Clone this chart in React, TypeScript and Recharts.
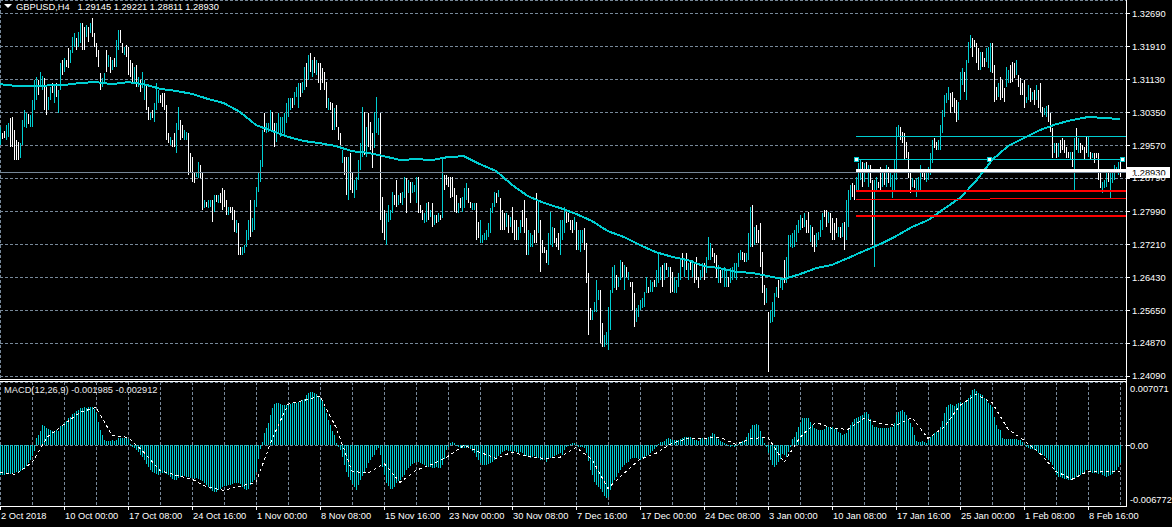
import React from 'react';
import { ComposedChart, Bar, Line, XAxis, YAxis, CartesianGrid, ReferenceLine, ReferenceDot, Cell } from 'recharts';

const FONT = '"Liberation Sans", Arial, sans-serif';
const CYAN = '#00ced1';
const GRID = '#778899';

// H4 bars: [high, low, up(1)/down(0)] in pips (1e-4)
const bars: number[][] = [
[13000,12958,1],[12986,12972,0],[12991,12974,0],[13005,12970,1],[13010,12977,1],[13022,12953,0],[13024,12953,0],[12993,12922,0],[12970,12922,0],[12965,12922,0],
[12962,12927,1],[13017,12958,1],[13041,13000,1],[13034,12998,1],[13031,13008,0],[13029,13000,1],[13065,13000,1],[13112,13041,1],[13119,13065,1],[13112,13076,0],
[13131,13095,1],[13122,13088,1],[13117,13041,0],[13100,13029,0],[13072,13041,1],[13095,13065,1],[13105,13081,0],[13100,13057,1],[13105,13072,0],[13088,13034,1],
[13152,13088,1],[13160,13124,0],[13164,13131,1],[13160,13143,0],[13188,13141,0],[13183,13152,1],[13214,13176,1],[13224,13190,1],[13212,13183,0],[13226,13190,1],
[13247,13200,1],[13247,13183,0],[13238,13183,0],[13243,13214,1],[13238,13202,0],[13247,13224,1],[13259,13214,0],[13224,13190,0],[13200,13167,0],[13183,13143,0],
[13129,13088,0],[13117,13095,1],[13129,13105,1],[13183,13131,0],[13171,13143,1],[13167,13129,0],[13160,13136,1],[13164,13143,0],[13207,13143,1],[13231,13183,1],
[13231,13200,0],[13200,13176,0],[13190,13171,1],[13195,13167,0],[13190,13124,0],[13160,13119,0],[13152,13107,0],[13143,13105,1],[13148,13095,0],[13119,13095,1],
[13112,13084,0],[13131,13093,1],[13112,13065,1],[13100,13041,0],[13048,13017,0],[13034,13017,1],[13041,13022,0],[13057,13012,1],[13105,13041,1],[13088,13057,1],
[13076,13057,0],[13081,13048,0],[13081,13041,0],[13053,12970,0],[12986,12962,0],[12977,12958,1],[12970,12953,0],[12986,12953,0],[13010,12939,1],[13048,12993,1],
[13017,12970,0],[13005,12974,0],[12993,12970,1],[12989,12970,1],
[12986,12886,0],[12939,12891,0],[12929,12870,0],[12894,12867,0],[12894,12882,1],[12917,12879,1],
[12910,12879,0],[12891,12803,0],[12827,12808,1],[12822,12810,0],[12827,12808,1],[12827,12810,1],[12827,12775,0],[12839,12799,1],[12839,12822,0],[12839,12820,1],
[12844,12820,0],[12856,12803,0],[12851,12810,0],[12827,12791,0],[12810,12791,1],[12810,12796,0],[12810,12780,0],[12803,12751,0],[12780,12749,1],[12772,12696,0],
[12715,12696,0],[12715,12696,1],[12720,12701,1],[12756,12715,1],[12780,12732,1],[12827,12739,0],[12784,12751,1],[12827,12756,1],[12858,12810,1],[12891,12846,1],
[12922,12870,1],[12993,12905,1],[13034,12989,0],[13010,12986,1],[13010,12989,1],[13041,12993,1],[13036,12993,0],[13010,12953,0],[13010,12965,1],[13034,12986,1],
[13024,12977,1],[13024,12986,1],[13034,12977,1],[13057,13010,1],[13069,13024,1],[13069,13041,1],[13069,13046,0],[13084,13053,1],[13095,13072,1],[13105,13046,1],
[13105,13072,0],[13107,13081,1],[13143,13088,1],[13152,13095,0],[13171,13112,1],[13176,13131,0],[13160,13119,1],[13167,13129,0],[13160,13124,1],[13152,13105,0],
[13152,13088,0],[13141,13105,0],[13131,13088,0],[13107,13046,0],[13069,13041,1],[13060,13041,0],[13057,12993,0],[13046,12993,1],[13053,13000,0],[13000,12970,0],
[12986,12958,0],[12946,12915,1],[12929,12886,0],[12929,12839,0],[12929,12827,1],[12939,12851,0],[12891,12844,0],[12875,12832,1],[12882,12851,1],[12922,12875,1],
[12962,12898,1],[13048,12929,1],[13036,12934,0],[13000,12929,1],[13034,12953,0],[13012,12946,0],[12986,12903,0],[13036,12951,1],[13072,12986,1],
[13022,12981,1],[13034,12780,0],[12834,12749,0],[12803,12732,0],[12796,12720,1],[12815,12775,1],[12803,12780,1],[12846,12796,1],[12839,12815,0],[12875,12810,0],[12839,12815,1],
[12844,12820,0],[12846,12815,1],[12882,12832,1],[12879,12796,0],[12875,12844,1],[12870,12820,0],[12870,12844,1],[12863,12846,1],[12882,12820,1],[12882,12796,0],
[12815,12796,0],[12803,12780,0],[12796,12772,1],[12820,12775,1],[12822,12780,0],[12803,12787,1],[12820,12763,0],[12791,12768,1],[12791,12772,0],[12796,12775,1],
[12791,12780,0],[12927,12784,1],[12886,12851,0],[12886,12863,0],[12882,12858,0],[12882,12832,0],[12882,12834,0],[12856,12799,0],[12839,12796,0],[12820,12796,1],
[12832,12808,0],[12834,12799,1],[12856,12808,1],[12867,12827,1],[12856,12820,0],[12822,12808,0],[12820,12803,1],[12820,12803,1],[12820,12732,0],[12775,12737,0],
[12780,12725,1],[12744,12725,1],[12749,12732,1],[12756,12732,1],[12772,12739,1],[12808,12749,1],[12820,12796,1],[12846,12810,1],[12844,12820,0],[12851,12834,1],
[12832,12756,0],[12803,12756,0],[12796,12756,0],[12796,12763,1],[12791,12749,0],[12787,12763,1],[12810,12749,0],[12780,12732,0],[12780,12732,0],[12763,12732,1],
[12780,12749,1],[12803,12763,0],[12827,12749,0],[12784,12696,0],[12756,12696,1],[12749,12715,1],[12744,12715,1],[12756,12725,0],[12844,12725,0],[12827,12749,1],
[12780,12656,0],[12732,12701,0],[12715,12701,0],[12708,12677,0],[12749,12673,1],[12799,12720,1],[12763,12715,1],[12761,12725,0],[12737,12715,0],[12749,12708,0],
[12780,12696,1],[12780,12732,1],[12810,12749,1],[12799,12772,0],[12796,12775,0],[12780,12756,0],[12780,12749,0],[12787,12756,1],[12775,12708,0],[12756,12708,1],
[12756,12704,1],[12756,12725,1],[12761,12708,0],[12725,12630,0],[12654,12506,0],[12571,12542,0],[12566,12542,1],[12585,12561,1],[12637,12561,1],[12613,12590,1],
[12613,12487,0],[12535,12478,0],[12506,12478,1],[12514,12483,1],[12573,12471,1],[12613,12518,1],[12668,12606,1],[12673,12618,1],[12649,12613,0],[12644,12620,1],
[12685,12637,1],[12680,12644,0],[12673,12613,1],[12668,12644,0],[12656,12637,1],[12632,12620,0],[12632,12566,0],[12606,12525,0],[12571,12537,1],[12578,12549,1],
[12590,12566,1],[12594,12571,1],[12609,12573,1],[12644,12606,1],[12620,12606,0],[12637,12609,1],[12632,12609,1],[12637,12620,0],[12661,12620,1],[12701,12630,1],
[12668,12637,1],[12673,12620,0],[12677,12637,1],[12677,12661,0],[12668,12644,1],[12668,12606,0],[12656,12609,0],[12644,12606,1],[12637,12606,1],[12654,12620,1],
[12685,12637,1],[12701,12668,0],[12685,12644,1],[12701,12661,0],[12677,12637,1],[12685,12661,0],[12685,12644,1],[12677,12630,0],[12692,12637,0],[12644,12618,0],
[12661,12637,1],[12677,12644,1],[12677,12637,0],[12692,12654,1],[12739,12685,1],[12725,12685,1],[12713,12692,0],[12701,12677,0],[12696,12642,0],[12673,12630,1],
[12661,12630,0],[12661,12642,1],[12668,12620,1],[12661,12620,1],[12644,12620,0],[12666,12630,1],[12668,12637,1],[12677,12642,1],[12677,12637,1],[12701,12668,1],
[12708,12685,1],[12704,12685,0],[12701,12680,0],[12701,12680,1],[12749,12685,1],[12810,12715,1],[12815,12715,0],[12763,12720,1],[12768,12725,0],[12756,12725,0],
[12772,12668,0],[12704,12606,0],[12625,12578,0],[12618,12582,1],[12561,12419,0],[12566,12535,1],[12585,12537,1],[12606,12549,1],[12620,12597,1],[12637,12594,0],
[12644,12618,1],[12642,12613,1],[12685,12630,0],[12692,12630,1],[12744,12644,1],[12744,12715,1],[12749,12713,1],[12756,12715,1],[12768,12727,1],[12780,12749,1],
[12791,12756,1],[12784,12761,0],[12796,12763,1],[12780,12749,0],[12799,12749,0],[12768,12727,1],[12763,12715,0],[12744,12704,0],[12749,12715,1],[12751,12732,1],
[12780,12739,1],[12796,12756,1],[12803,12787,0],[12803,12763,0],[12799,12772,1],[12796,12749,0],[12784,12732,0],[12772,12732,0],[12784,12749,0],[12763,12739,1],
[12763,12737,0],[12772,12739,1],[12775,12708,0],[12827,12732,1],[12851,12763,1],[12863,12827,1],[12867,12834,0],[12863,12827,0],[12882,12846,1],[12915,12851,1],
[12922,12875,1],[12917,12858,0],[12915,12870,1],[12917,12891,0],[12910,12858,1],[12910,12867,0],[12875,12720,0],[12875,12668,1],[12882,12851,1],[12870,12856,0],
[12905,12851,0],[12891,12858,1],[12891,12863,0],[12910,12858,1],[12905,12867,0],[12891,12858,1],[12886,12832,1],[12922,12851,1],[13000,12875,1],[13005,12977,1],
[13000,12970,0],[12989,12962,0],[12986,12922,0],[12965,12927,0],[12941,12879,0],[12898,12844,0],[12879,12858,1],[12875,12856,0],[12879,12834,1],[12882,12846,1],
[12910,12851,1],[12898,12882,0],[12898,12875,0],[12898,12870,1],[12905,12875,1],[12939,12886,1],[12970,12915,1],[12974,12951,0],[12965,12946,0],[12970,12946,1],
[13005,12946,1],[13041,12986,1],[13076,13024,1],[13081,13057,1],[13095,13065,1],[13081,13034,0],[13084,13048,0],[13069,13034,0],[13065,13012,0],[13060,13017,1],
[13131,13065,1],[13141,13100,1],[13131,13084,0],[13160,13065,1],[13202,13152,1],[13219,13188,1],[13212,13167,0],[13207,13190,0],[13200,13152,0],[13188,13136,0],
[13179,13136,1],[13179,13143,0],[13164,13143,0],[13188,13155,1],[13190,13141,1],[13200,13131,1],[13200,13129,0],[13148,13060,0],[13095,13065,0],[13105,13072,1],
[13119,13065,0],[13112,13069,0],[13093,13060,0],[13143,13095,1],[13136,13105,1],[13148,13105,0],[13155,13107,0],[13152,13117,0],[13160,13124,1],[13124,13095,0],
[13117,13076,0],[13105,13076,0],[13112,13046,0],[13072,13057,1],[13100,13065,1],[13093,13060,0],[13084,13065,1],[13088,13053,0],[13100,13065,1],[13088,13046,0],
[13105,13036,0],[13048,13024,0],[13046,13029,1],[13050,13024,1],[13053,13012,0],[13034,12989,0],[12998,12927,0],[12962,12939,1],[12962,12927,0],[12962,12929,1],
[12970,12939,0],[12974,12946,0],[12970,12939,0],[12953,12927,0],[12941,12927,0],[12941,12922,1],[12941,12905,0],[12974,12851,1],[12998,12946,0],[12974,12939,1],
[12962,12939,0],[12958,12946,0],[12953,12922,0],[12977,12939,0],[12977,12929,1],[12941,12922,0],[12939,12927,1],[12939,12915,0],[12939,12927,0],[12939,12875,0],
[12894,12856,0],[12870,12844,1],[12875,12856,1],[12891,12858,1],[12898,12870,0],[12891,12832,1],[12898,12867,1],[12910,12875,1],[12905,12891,1],[12917,12886,1],[12922,12881,0]
];

// Moving average, one value every 8 bars (pips)
const maEvery8 = [13102,13098,13098,13099,13100,13105,13107,13102,13107,13102,13091,13086,13079,13067,13057,13036,13005,12991,12977,12967,12962,12955,12943,12939,12931,12922,12924,12922,12929,12931,12912,12896,12863,12836,12820,12808,12794,12777,12753,12739,12720,12703,12692,12684,12670,12665,12656,12654,12646,12639,12651,12665,12673,12689,12706,12722,12741,12763,12779,12806,12832,12872,12922,12955,12974,12993,13007,13017,13024,13022,13019];

// MACD histogram per bar (1e-5)
const macdHist = [
-335,-335,-335,-324,-324,-324,-312,-312,-301,-301,-290,-279,-257,-234,-201,-167,-123,-67,78,112,
156,223,212,190,179,167,156,156,167,156,212,223,246,268,301,312,346,357,379,391,
413,413,424,413,424,424,424,402,357,257,167,112,56,45,45,45,56,45,56,78,
78,78,78,78,67,11,-22,-33,-56,-78,-112,-134,-167,-212,-246,-279,-301,-312,-324,-335,
-312,-312,-312,-324,-335,-357,-379,-391,-391,-368,-357,-357,-346,-357,-357,-368,-368,-379,-368,-379,
-391,-402,-424,-446,-469,-491,-513,-525,-525,-502,-491,-469,-458,-458,-446,-446,-435,-424,-424,-424,
-435,-469,-491,-502,-491,-446,-413,-391,-301,-156,-45,33,134,190,246,335,413,458,469,469,
458,446,446,446,446,458,469,469,469,480,491,502,513,558,580,591,591,580,569,536,
513,491,424,357,279,223,156,112,22,-22,-56,-134,-223,-301,-357,-391,-435,-469,-502,-446,
-391,-346,-312,-257,-201,-167,-134,-112,-56,-33,-112,-246,-335,-424,-458,-491,-491,-469,-424,-402,
-391,-357,-335,-279,-257,-234,-212,-201,-190,-190,-201,-212,-223,-234,-246,-246,-257,-257,-246,-257,
-257,-223,-156,-56,-22,22,33,22,-11,-22,-33,-33,-33,-33,-33,-45,-67,-89,-134,-167,
-201,-223,-223,-223,-212,-201,-190,-167,-145,-123,-100,-78,-67,-56,-67,-67,-78,-67,-78,-89,
-78,-89,-112,-123,-134,-145,-134,-123,-134,-145,-167,-167,-156,-190,-156,-145,-134,-123,-112,-100,
-89,-112,-56,-22,-11,11,22,22,11,-22,-22,-22,-33,-89,-179,-279,-335,-413,-446,-469,
-491,-525,-569,-591,-580,-502,-446,-391,-357,-312,-279,-246,-223,-201,-190,-156,-145,-145,-145,-156,
-167,-145,-134,-123,-112,-89,-67,-45,-22,11,33,33,45,67,78,67,56,56,56,56,
67,78,89,89,89,89,78,56,56,45,67,78,56,67,89,100,134,123,89,67,
45,33,22,11,-11,-22,-11,-22,-11,11,22,45,56,89,134,179,223,223,234,223,
156,89,22,-22,-89,-167,-223,-246,-223,-190,-156,-100,-112,-134,-78,-22,67,89,145,201,
246,301,301,301,301,257,223,190,179,167,167,167,179,201,201,190,201,179,179,145,
134,112,123,134,167,223,257,290,301,312,324,335,357,368,346,290,223,201,201,190,
190,190,190,190,190,201,201,246,335,368,379,391,368,335,290,246,201,112,45,33,
33,45,33,22,56,89,112,134,145,156,201,268,357,424,446,458,446,435,458,469,
480,469,480,491,525,558,614,625,603,580,569,558,525,502,469,446,424,312,223,179,
167,78,67,67,67,67,67,67,67,56,56,33,11,-22,-33,-45,-45,-56,-67,-89,
-100,-112,-123,-145,-167,-190,-223,-279,-335,-357,-357,-368,-379,-379,-391,-391,-391,-379,-357,-346,
-335,-324,-301,-279,-279,-301,-312,-312,-312,-324,-312,-335,-346,-357,-346,-335,-324,-301,-279,-246,-199
];

// MACD signal, one value every 8 bars (1e-5)
const signalEvery8 = [-301,-324,-190,100,234,368,424,112,89,-78,-279,-335,-379,-469,-502,-458,-413,67,458,502,547,201,-290,-312,-201,-413,-279,-212,-123,0,-78,-145,-78,-123,-145,-134,-22,-156,-480,-312,-156,-89,22,78,78,89,11,78,89,-190,89,257,190,179,301,246,223,312,78,201,446,569,480,179,56,-89,-290,-379,-290,-290,-291];

const priceTicks = [1.2409, 1.2487, 1.2565, 1.2643, 1.2721, 1.2799, 1.2879, 1.2957, 1.3035, 1.3113, 1.3191, 1.3269];
const macdTicks = [-0.006772, 0, 0.007071];
const timeLabels = ['2 Oct 2018','10 Oct 00:00','17 Oct 08:00','24 Oct 16:00','1 Nov 00:00','8 Nov 08:00','15 Nov 16:00','23 Nov 00:00','30 Nov 08:00','7 Dec 16:00','17 Dec 00:00','24 Dec 08:00','3 Jan 00:00','10 Jan 08:00','17 Jan 16:00','25 Jan 00:00','1 Feb 08:00','8 Feb 16:00'];

// drawn objects
const objStart = 428;
const objEnd = 563;
const bidPrice = 1.2893;
const cyanLevel = 1.2979;
const cyanTrend = 1.2924;
const cyanMarkers = [428, 494.5, 561];
const whiteLevel = 1.2897;
const redThick = [1.2849, 1.2789];
const redThin = [[428, 495, 1.2829], [495, 563, 1.2831]];

const X_MAX = 563;
const gridTicks = Array.from({ length: 35 }, (_, k) => (k + 1) * 16);

const data = bars.map((b, i) => ({
  i,
  range: [b[1] / 1e4, b[0] / 1e4],
  up: b[2],
  ma: i % 8 === 0 && maEvery8[i / 8] != null ? maEvery8[i / 8] / 1e4 : null,
  hist: macdHist[i] / 1e5,
  signal: i % 8 === 0 && signalEvery8[i / 8] != null ? signalEvery8[i / 8] / 1e5 : null,
}));

// 1px vertical stick snapped to the whole pixel at the bar's scale position
const StickShape = (props: any) => {
  const { x, y, width, height, fill } = props;
  if (x == null || y == null || width == null || height == null) return null;
  const cx = Math.ceil(x + width / 2 - 0.01);
  const top = Math.round(Math.min(y, y + height));
  const h = Math.max(1, Math.round(Math.abs(height)));
  return <rect x={cx} y={top} width={1} height={h} fill={fill} />;
};

const PriceTick = (props: any) => {
  const { x, y, payload } = props;
  return (
    <text x={x} y={y} dy={3.3} fill="#ffffff" fontSize={9.3} fontFamily={FONT} textAnchor="start">
      {Number(payload.value).toFixed(5)}
    </text>
  );
};

const MacdTick = (props: any) => {
  const { x, y, payload } = props;
  const v = payload.value;
  let label = '0.00';
  let dy = 3.3;
  if (v > 0) { label = '0.007071'; dy = 9.5; }
  if (v < 0) { label = '-0.006772'; dy = -3.5; }
  return (
    <g>
      {v === 0 ? <line x1={x - 6} x2={x - 2} y1={y} y2={y} stroke="#ffffff" /> : null}
      <text x={x - 2} y={y} dy={dy} fill="#ffffff" fontSize={9.3} fontFamily={FONT} textAnchor="start">{label}</text>
    </g>
  );
};

const TimeTick = (props: any) => {
  const { x, y, payload } = props;
  const idx = payload.value;
  if (idx % 32 !== 0) return null;
  const label = timeLabels[idx / 32];
  if (!label) return null;
  return (
    <g>
      <line x1={x} x2={x} y1={y} y2={y + 4} stroke="#ffffff" />
      <text x={x + 1} y={y + 13} fill="#ffffff" fontSize={9.3} fontFamily={FONT} textAnchor="start">{label}</text>
    </g>
  );
};

const BidTag = (props: any) => {
  const vb = props.viewBox || {};
  const x = (vb.x || 0) + (vb.width || 0) + 1;
  const y = vb.y || 0;
  return (
    <g>
      <rect x={x} y={y - 5} width={43} height={11} fill="#ffffff" />
      <text x={x + 5} y={y + 3.5} fill="#000000" fontSize={9.3} fontFamily={FONT}>{bidPrice.toFixed(5)}</text>
    </g>
  );
};

const SquareMarker = (props: any) => {
  const { cx, cy } = props;
  return <rect x={Math.round(cx) - 2} y={Math.round(cy) - 2} width={4} height={4} fill="#ffffff" stroke={CYAN} strokeWidth={1} />;
};

export default function App() {
  return (
    <div style={{ position: 'absolute', left: 0, top: 0, width: 1172, height: 527, background: '#000', overflow: 'hidden', fontFamily: FONT }}>
      <div style={{ position: 'absolute', left: 0, top: 0, shapeRendering: 'crispEdges' as any }}>
        <ComposedChart width={1172} height={380} data={data} margin={{ top: 0, right: 0, bottom: 0, left: 0 }}>
          <CartesianGrid stroke={GRID} strokeDasharray="3 2" />
          <XAxis type="number" dataKey="i" domain={[0, X_MAX]} ticks={gridTicks} interval={0} height={0} tick={false} axisLine={false} tickLine={false} allowDataOverflow />
          <YAxis orientation="right" width={46} type="number" domain={[1.23995, 1.3302]} ticks={priceTicks} interval={0} tick={<PriceTick />} tickSize={4} tickLine={{ stroke: '#ffffff' }} axisLine={false} allowDataOverflow />
          <ReferenceLine y={bidPrice} stroke={GRID} label={<BidTag />} />
          <Bar dataKey="range" barSize={1} fill={CYAN} stroke="none" shape={StickShape} isAnimationActive={false}>
            {data.map((d) => (
              <Cell key={'c' + d.i} fill={d.up ? CYAN : '#ffffff'} />
            ))}
          </Bar>
          <Line dataKey="ma" type="linear" stroke={CYAN} strokeWidth={2} dot={false} activeDot={false} connectNulls isAnimationActive={false} />
          <ReferenceLine segment={[{ x: objStart, y: cyanLevel }, { x: objEnd, y: cyanLevel }]} stroke={CYAN} />
          <ReferenceLine segment={[{ x: cyanMarkers[0], y: cyanTrend }, { x: cyanMarkers[2], y: cyanTrend }]} stroke={CYAN} />
          <ReferenceLine segment={[{ x: objStart, y: whiteLevel }, { x: objEnd, y: whiteLevel }]} stroke="#ffffff" strokeWidth={3} />
          {redThick.map((p) => (
            <ReferenceLine key={'r' + p} segment={[{ x: objStart, y: p }, { x: objEnd, y: p }]} stroke="#ff0000" strokeWidth={2} />
          ))}
          {redThin.map((s) => (
            <ReferenceLine key={'t' + s[0]} segment={[{ x: s[0], y: s[2] }, { x: s[1], y: s[2] }]} stroke="#ff0000" strokeWidth={1} />
          ))}
          {cyanMarkers.map((m) => (
            <ReferenceDot key={'m' + m} x={m} y={cyanTrend} r={2} shape={SquareMarker} />
          ))}
        </ComposedChart>
      </div>
      <div style={{ position: 'absolute', left: 0, top: 382, shapeRendering: 'crispEdges' as any }}>
        <ComposedChart width={1172} height={145} data={data} margin={{ top: 0, right: 0, bottom: 0, left: 0 }}>
          <CartesianGrid stroke={GRID} strokeDasharray="3 2" />
          <XAxis type="number" dataKey="i" domain={[0, X_MAX]} ticks={[0, ...gridTicks]} interval={0} height={21} tick={<TimeTick />} tickSize={0} tickMargin={0} tickLine={false} axisLine={{ stroke: '#ffffff' }} allowDataOverflow />
          <YAxis orientation="right" width={46} type="number" domain={[-0.006772, 0.007071]} ticks={macdTicks} interval={0} tick={<MacdTick />} tickSize={4} tickLine={false} axisLine={false} allowDataOverflow />
          <Bar dataKey="hist" barSize={1} fill={CYAN} stroke="none" shape={StickShape} isAnimationActive={false} />
          <Line dataKey="signal" type="linear" stroke="#ffffff" strokeWidth={1} strokeDasharray="3 3" dot={false} activeDot={false} connectNulls isAnimationActive={false} />
        </ComposedChart>
      </div>
      {/* frame lines */}
      <div style={{ position: 'absolute', left: 0, top: 379, width: 1127, height: 1, background: '#fff' }} />
      <div style={{ position: 'absolute', left: 0, top: 381, width: 1127, height: 1, background: '#fff' }} />
      <div style={{ position: 'absolute', left: 1126, top: 0, width: 1, height: 507, background: '#fff' }} />
      {/* titles */}
      <svg style={{ position: 'absolute', left: 4, top: 4 }} width={9} height={5}>
        <polygon points="0,0 8,0 4,4" fill="#fff" />
      </svg>
      <div style={{ position: 'absolute', left: 16, top: 1, color: '#fff', fontSize: 9.3, whiteSpace: 'pre', lineHeight: '12px' }}>
        {'GBPUSD,H4   1.29145 1.29221 1.28811 1.28930'}
      </div>
      <div style={{ position: 'absolute', left: 4, top: 384, color: '#e8e8e8', fontSize: 9.3, whiteSpace: 'pre', lineHeight: '12px' }}>
        {'MACD(12,26,9) -0.001985 -0.002912'}
      </div>
    </div>
  );
}
